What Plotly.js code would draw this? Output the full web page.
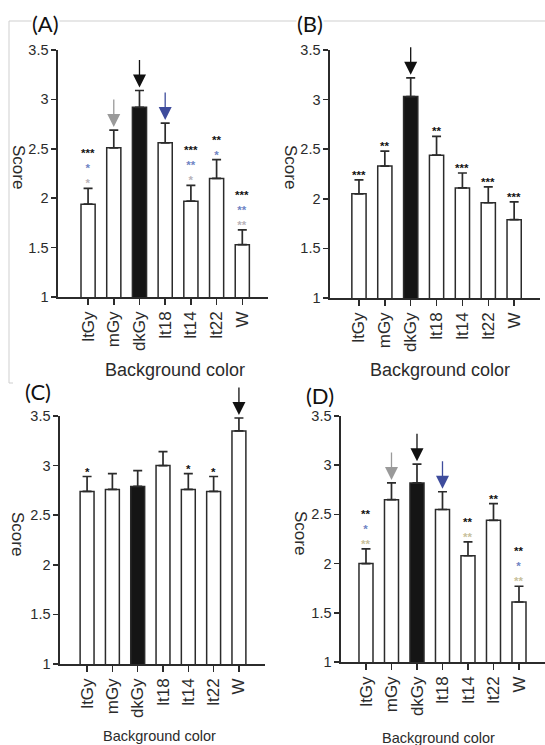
<!DOCTYPE html>
<html><head><meta charset="utf-8">
<script src="https://cdn.plot.ly/plotly-3.0.1.min.js"></script>
<style>html,body{margin:0;padding:0;background:#fff}#chart{width:545px;height:745px}</style>
</head><body><div id="chart"></div>
<script>
// ---------- data ----------
const categories = ['ltGy','mGy','dkGy','lt18','lt14','lt22','W'];
const darkCategory = 'dkGy';
const yTickVals = [1, 1.5, 2, 2.5, 3, 3.5];
const yTickText = ['1', '1.5', '2', '2.5', '3', '3.5'];

const meanA = [1.94, 2.51, 2.92, 2.56, 1.97, 2.20, 1.53];
const semA  = [0.16, 0.18, 0.17, 0.20, 0.16, 0.19, 0.15];
const sigA1 = ['***', '', '', '', '***', '**', '***'];
const sigA2 = ['*', '', '', '', '**', '*', '**'];
const sigA3 = ['*', '', '', '', '*', '', '**'];
const arrowA = ['', 'gray', 'black', 'blue', '', '', ''];

const meanB = [2.05, 2.33, 3.03, 2.44, 2.11, 1.96, 1.79];
const semB  = [0.14, 0.15, 0.19, 0.19, 0.15, 0.16, 0.18];
const sigB1 = ['***', '**', '', '**', '***', '***', '***'];
const sigB2 = ['', '', '', '', '', '', ''];
const sigB3 = ['', '', '', '', '', '', ''];
const arrowB = ['', '', 'black', '', '', '', ''];

const meanC = [2.74, 2.76, 2.79, 3.00, 2.76, 2.74, 3.35];
const semC  = [0.15, 0.16, 0.16, 0.14, 0.16, 0.15, 0.13];
const sigC1 = ['*', '', '', '', '*', '*', ''];
const sigC2 = ['', '', '', '', '', '', ''];
const sigC3 = ['', '', '', '', '', '', ''];
const arrowC = ['', '', '', '', '', '', 'black'];

const meanD = [2.00, 2.65, 2.82, 2.55, 2.08, 2.44, 1.61];
const semD  = [0.15, 0.17, 0.19, 0.18, 0.14, 0.17, 0.16];
const sigD1 = ['**', '', '', '', '**', '**', '**'];
const sigD2 = ['*', '', '', '', '', '', '*'];
const sigD3 = ['**', '', '', '', '**', '', '**'];
const arrowD = ['', 'gray', 'black', 'blue', '', '', ''];

// ---------- styling / layout ----------
const W = 545, H = 745;
const px = x => x / W;
const py = y => 1 - y / H;
const FONT = "'Liberation Sans', Arial, Helvetica, sans-serif";
const INK = '#2b2b2b';
const arrowColors = {black: '#111111', gray: '#9a9a9a', blue: '#3e4c9c'};
const rowColorsA = ['#111111', '#6f84c4', '#b9b3b9'];
const rowColorsD = ['#111111', '#6f84c4', '#c8bf9c'];

const panels = [
  {label:'(A)', mean:meanA, sem:semA, sig:[sigA1,sigA2,sigA3], arrows:arrowA, rowColors:rowColorsA,
   xd:[58,268], yd:[297,50], xr:[-1.17,7.0], lab:[45,24], score:[18,167], tpos:[175,370], tsize:18},
  {label:'(B)', mean:meanB, sem:semB, sig:[sigB1,sigB2,sigB3], arrows:arrowB, rowColors:rowColorsA,
   xd:[330,540], yd:[298,50], xr:[-1.12,7.0], lab:[310,24], score:[290,167], tpos:[440,370], tsize:18},
  {label:'(C)', mean:meanC, sem:semC, sig:[sigC1,sigC2,sigC3], arrows:arrowC, rowColors:rowColorsA,
   xd:[60,265], yd:[664,416], xr:[-1.07,7.03], lab:[38,391], score:[18,534], tpos:[159,736], tsize:14.5},
  {label:'(D)', mean:meanD, sem:semD, sig:[sigD1,sigD2,sigD3], arrows:arrowD, rowColors:rowColorsD,
   xd:[341,545], yd:[662,416], xr:[-0.98,7.02], lab:[320,395], score:[301,533], tpos:[438,738], tsize:14.5}
];

const traces = [];
const layout = {
  width: W, height: H,
  margin: {l:0, r:0, t:0, b:0},
  paper_bgcolor: '#fff', plot_bgcolor: '#fff',
  showlegend: false,
  bargap: 0.45,
  font: {family: FONT, color: INK},
  annotations: [],
  shapes: [
    {type:'line', xref:'paper', yref:'paper', x0:px(9), x1:px(545), y0:py(21), y1:py(21), line:{color:'#cfcfcf', width:1}},
    {type:'line', xref:'paper', yref:'paper', x0:px(9), x1:px(9), y0:py(21), y1:py(383), line:{color:'#cfcfcf', width:1}},
    {type:'line', xref:'paper', yref:'paper', x0:px(9), x1:px(13), y0:py(383), y1:py(383), line:{color:'#cfcfcf', width:1}}
  ]
};

panels.forEach((p, i) => {
  const n = i === 0 ? '' : String(i + 1);
  const xa = 'x' + n, ya = 'y' + n;
  traces.push({
    type: 'bar', x: categories, y: p.mean, xaxis: xa, yaxis: ya,
    marker: {color: categories.map(c => c === darkCategory ? '#151515' : '#ffffff'),
             line: {color: INK, width: 1.5}},
    error_y: {type:'data', symmetric:false, array:p.sem, arrayminus:p.sem.map(() => 0),
              color: INK, thickness: 1.7, width: 4.5},
    hoverinfo: 'skip'
  });
  layout['xaxis' + n] = {
    domain: [px(p.xd[0]), px(p.xd[1])], anchor: ya, type: 'category', range: p.xr,
    showline: true, linecolor: INK, linewidth: 1.6, ticks: 'outside', ticklen: 6, tickwidth: 1.5,
    tickcolor: INK, tickangle: -90, tickfont: {size: 17, family: FONT, color: INK},
    showgrid: false, zeroline: false, fixedrange: true
  };
  layout['yaxis' + n] = {
    domain: [py(p.yd[0]), py(p.yd[1])], anchor: xa, range: [1, 3.5],
    tickvals: yTickVals, ticktext: yTickText,
    showline: true, linecolor: INK, linewidth: 1.6, ticks: 'outside', ticklen: 5, tickwidth: 1.5,
    tickcolor: INK, tickfont: {size: 14.5, family: FONT, color: INK},
    showgrid: false, zeroline: false, fixedrange: true
  };
  // panel label
  layout.annotations.push({xref:'paper', yref:'paper', x:px(p.lab[0]), y:py(p.lab[1]), text:p.label,
    showarrow:false, xanchor:'center', yanchor:'middle', bgcolor:'#ffffff', borderpad:0,
    font:{family:'Lato, "Open Sans", sans-serif', size:22, color:'#111'}});
  // y title
  layout.annotations.push({xref:'paper', yref:'paper', x:px(p.score[0]), y:py(p.score[1]), text:'Score',
    showarrow:false, textangle:90, xanchor:'center', yanchor:'middle',
    font:{family:FONT, size:17, color:INK}});
  // x title
  layout.annotations.push({xref:'paper', yref:'paper', x:px(p.tpos[0]), y:py(p.tpos[1]), text:'Background color',
    showarrow:false, xanchor:'center', yanchor:'middle',
    font:{family:FONT, size:p.tsize, color:INK}});
  // significance marks (stacked rows in one text) and arrows
  categories.forEach((c, j) => {
    const top = p.mean[j] + p.sem[j];
    const rows = [0,1,2].filter(r => p.sig[r][j]);
    if (rows.length) {
      const txt = rows.map(r => '<span style="color:' + p.rowColors[r] + '"><b>' + p.sig[r][j] + '</b></span>').join('<br>');
      layout.annotations.push({xref:xa, yref:ya, x:c, y:top, text:txt, showarrow:false,
        xanchor:'center', yanchor:'bottom', yshift:-2, borderpad:0,
        font:{family:FONT, size:11.5, color:'#111'}});
    }
    if (p.arrows[j]) {
      layout.annotations.push({xref:xa, yref:ya, x:c, y:top, text:'', showarrow:true,
        ax:0, ay:-32, arrowhead:2, arrowsize:2.0, arrowwidth:1.3, standoff:3,
        arrowcolor: arrowColors[p.arrows[j]]});
    }
  });
});

Plotly.newPlot('chart', traces, layout, {staticPlot: true, displayModeBar: false});
</script>
</body></html>
